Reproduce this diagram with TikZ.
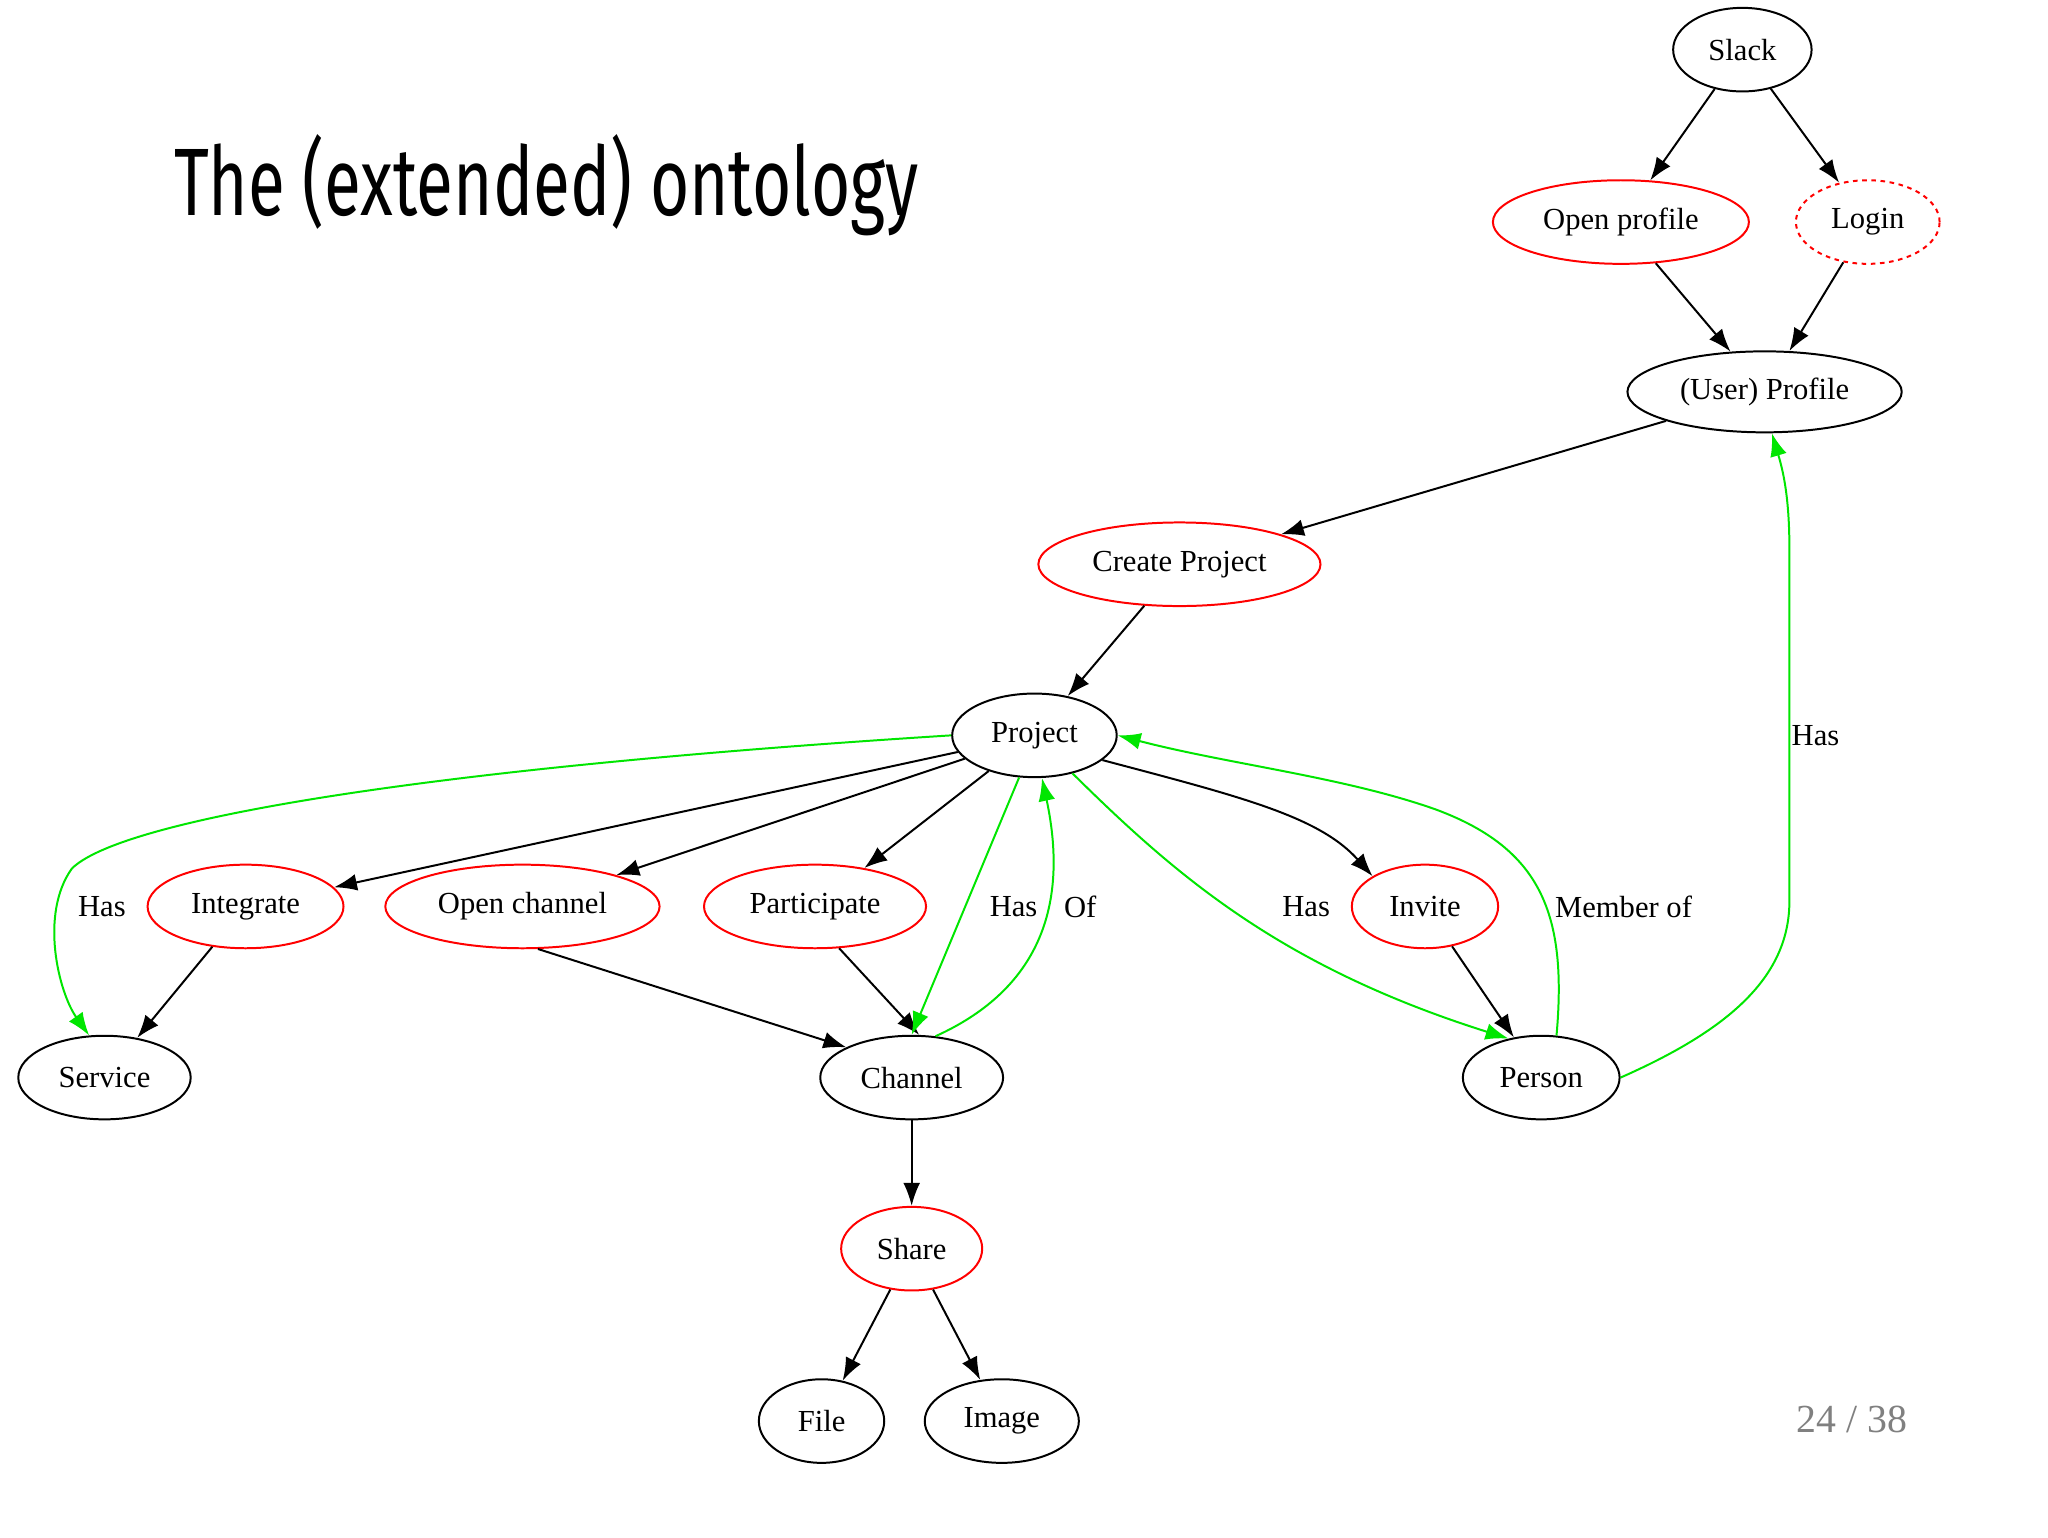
\documentclass[tikz,border=0pt]{standalone}
\usepackage{fontspec}
\setmainfont{Liberation Serif}
\newfontfamily\titlefont{Fira Sans}
\usetikzlibrary{shapes.geometric,arrows.meta}
\definecolor{gr}{RGB}{0,230,0}
\tikzset{
 bn/.style={ellipse,draw=black,line width=1.3pt,inner sep=0pt,minimum height=64*0.3mm,font=\fontsize{20}{24}\selectfont},
 rn/.style={bn,draw=red},
 ar/.style={line width=1.3pt,-{Latex[length=15pt,width=11pt]}},
 ga/.style={ar,draw=gr,-{Latex[length=15pt,width=11pt,fill=gr]}},
 lb/.style={font=\fontsize{20}{24}\selectfont,inner sep=0pt}
}
\begin{document}
\begin{tikzpicture}[x=0.3mm,y=-0.3mm]
\useasboundingbox[fill=white] (0,0) rectangle (1568,1177);
\node[anchor=west,inner sep=0pt] (title) at (133,142) {\resizebox{171mm}{18.6mm}{\titlefont\fontsize{40}{48}\selectfont The (extended) ontology}};
\node[bn,minimum width=106*0.3mm] (slack) at (1334,38) {Slack};
\node[rn,minimum width=196*0.3mm] (open) at (1241,170) {Open profile};
\node[rn,dashed,minimum width=110*0.3mm] (login) at (1430,170) {Login};
\node[bn,minimum width=210*0.3mm,minimum height=62*0.3mm] (profile) at (1351,300) {(User) Profile};
\node[rn,minimum width=216*0.3mm] (create) at (903,432) {Create Project};
\node[bn,minimum width=126*0.3mm] (project) at (792,563) {Project};
\node[rn,minimum width=150*0.3mm] (integrate) at (188,694) {Integrate};
\node[rn,minimum width=210*0.3mm] (ochan) at (400,694) {Open channel};
\node[rn,minimum width=170*0.3mm] (part) at (624,694) {Participate};
\node[rn,minimum width=112*0.3mm] (invite) at (1091,694) {Invite};
\node[bn,minimum width=132*0.3mm] (service) at (80,825) {Service};
\node[bn,minimum width=140*0.3mm] (channel) at (698,825) {Channel};
\node[bn,minimum width=120*0.3mm] (person) at (1180,825) {Person};
\node[rn,minimum width=108*0.3mm] (share) at (698,956) {Share};
\node[bn,minimum width=96*0.3mm] (file) at (629,1088) {File};
\node[bn,minimum width=118*0.3mm] (image) at (767,1088) {Image};
\node[lb,text=gray] (page) at (1418,1087) {\fontsize{26}{30}\selectfont 24 / 38};

\draw[ar] (slack) -- (open);
\draw[ar] (slack) -- (login);
\draw[ar] (open) -- (profile);
\draw[ar] (login) -- (profile);
\draw[ar] (profile) -- (create);
\draw[ar] (create) -- (project);
\draw[ar] (project) -- (integrate);
\draw[ar] (project) -- (ochan);
\draw[ar] (project) -- (part);
\draw[ar] (project.-20) .. controls (950,610) and (1010,625) .. (invite.north west);
\draw[ar] (integrate) -- (service);
\draw[ar] (ochan.-70) -- (channel.north west);
\draw[ar] (part.-60) -- (channel.80);
\draw[ar] (invite) -- (person);
\draw[ar] (channel) -- (share);
\draw[ar] (share) -- (file);
\draw[ar] (share) -- (image);

\draw[ga] (project.west) .. controls (300,590) and (90,630) .. (55,665) .. controls (30,700) and (45,760) .. (service.110);
\draw[ga] (project.-110) -- (channel.north);
\draw[ga] (channel.60) .. controls (790,760) and (820,700) .. (project.-80);
\draw[ga] (project.-45) .. controls (900,670) and (980,740) .. (person.130);
\draw[ga] (person.70) .. controls (1200,700) and (1180,650) .. (1100,620) .. controls (1030,595) and (940,585) .. (project.east);
\draw[ga] (person.east) .. controls (1320,790) and (1370,750) .. (1370,690) -- (1370,420) .. controls (1370,380) and (1365,360) .. (profile.-80);

\node[lb] (l1) at (78,694) {Has};
\node[lb] (l2) at (776,694) {Has};
\node[lb] (l3) at (827,694) {Of};
\node[lb] (l4) at (1000,694) {Has};
\node[lb] (l5) at (1243,694) {Member of};
\node[lb] (l6) at (1390,563) {Has};
\end{tikzpicture}
\end{document}
